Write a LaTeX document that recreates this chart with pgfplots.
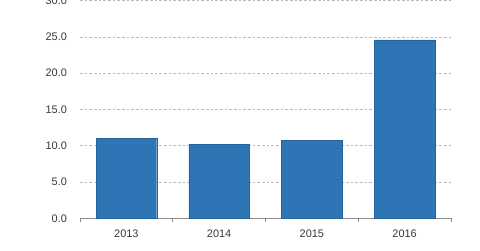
\documentclass[border=0pt]{standalone}
\usepackage{pgfplots}
\pgfplotsset{compat=1.18}
\usepackage{fontspec}
\setmainfont{Liberation Sans}
\definecolor{barblue}{RGB}{46,117,182}
\definecolor{gridc}{RGB}{185,185,185}
\definecolor{axc}{RGB}{140,140,140}
\definecolor{txt}{RGB}{55,55,55}
\begin{document}
\begin{tikzpicture}[x=1pt,y=1pt]
\begin{axis}[
  scale only axis,
  width=278.25pt, height=163.2pt,
  xmin=-0.5, xmax=3.5, ymin=0, ymax=30,
  axis lines*=left,
  x axis line style={axc, line width=0.6pt, -},
  y axis line style={draw=none},
  xtick={0,1,2,3},
  xticklabels={2013,2014,2015,2016},
  major x tick style={draw=none},
  major y tick style={draw=none},
  minor xtick={-0.5,0.5,1.5,2.5,3.5},
  minor x tick style={axc, line width=0.6pt},
  minor tick length=3pt,
  tick align=outside,
  ytick={0,5,...,30},
  yticklabel style={/pgf/number format/fixed, /pgf/number format/fixed zerofill, /pgf/number format/precision=1, xshift=-2pt},
  ymajorgrids,
  major grid style={gridc, dash pattern=on 2pt off 1.5pt, line width=0.5pt},
  tick label style={font=\fontsize{8.2}{10}\selectfont, text=txt},
  /pgf/number format/assume math mode=true,
  xticklabel style={yshift=-1pt},
  clip=false,
]
\addplot[ybar, bar width=45.5pt, fill=barblue, draw=barblue!85!black, line width=0.3pt] coordinates {
  (0,11.0) (1,10.2) (2,10.7) (3,24.6)
};
\coordinate (sw) at (rel axis cs:0,0);
\coordinate (ne) at (rel axis cs:1,1);
\end{axis}
\pgfresetboundingbox
\path[use as bounding box] ([xshift=-60pt,yshift=-24.5pt]sw) rectangle ([xshift=21.75pt,yshift=0.5pt]ne);
\end{tikzpicture}
\end{document}
